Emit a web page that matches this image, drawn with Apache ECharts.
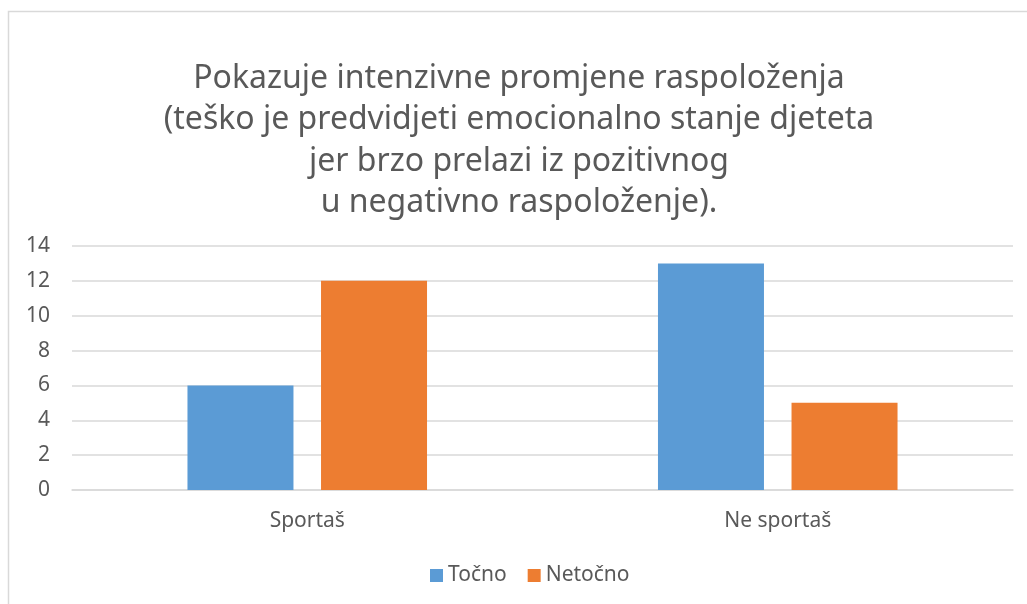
<!DOCTYPE html>
<html>
<head>
<meta charset="utf-8">
<script src="https://cdn.jsdelivr.net/npm/echarts@6/dist/echarts.min.js"></script>
<style>
  html, body { margin: 0; padding: 0; background: #fff; }
  #chart { width: 1027px; height: 604px; }
</style>
</head>
<body>
<div id="chart"></div>
<script>
var categories = ["Sportaš", "Ne sportaš"];
var tocno = [6, 13];
var netocno = [12, 5];
var titleLines = [
  "Pokazuje intenzivne promjene raspoloženja",
  "(teško je predvidjeti emocionalno stanje djeteta",
  "jer brzo prelazi iz pozitivnog",
  "u negativno raspoloženje)."
];

var chart = echarts.init(document.getElementById("chart"), null, { renderer: "canvas" });
var font = "'Noto Sans', 'Open Sans', sans-serif";

var option = {
  backgroundColor: "#ffffff",
  animation: false,
  textStyle: { fontFamily: font },
  graphic: [
    {
      type: "rect",
      shape: { x: 8.5, y: 11.5, width: 1040, height: 620 },
      style: { fill: "none", stroke: "#d9d9d9", lineWidth: 1.5 },
      silent: true
    }
  ],
  title: {
    text: titleLines.join("\n"),
    left: 514,
    top: 53,
    textAlign: "center",
    textStyle: {
      fontFamily: font,
      fontWeight: "normal",
      fontSize: 32,
      lineHeight: 41.5,
      color: "#595959"
    }
  },
  legend: {
    bottom: 13,
    left: 425,
    itemWidth: 13,
    itemHeight: 13,
    itemGap: 21,
    icon: "rect",
    textStyle: { fontFamily: font, fontSize: 21, color: "#595959" },
    data: ["Točno", "Netočno"]
  },
  grid: { left: 72, right: 14, top: 246, bottom: 114 },
  xAxis: {
    type: "category",
    data: categories,
    axisLine: { lineStyle: { color: "#d9d9d9", width: 1.5 } },
    axisTick: { show: false },
    axisLabel: { fontFamily: font, fontSize: 21, color: "#595959", margin: 21 }
  },
  yAxis: {
    type: "value",
    min: 0,
    max: 14,
    interval: 2,
    axisLine: { show: false },
    axisTick: { show: false },
    splitLine: { lineStyle: { color: "#d9d9d9", width: 1.5 } },
    axisLabel: { fontFamily: font, fontSize: 21, color: "#595959", margin: 22 }
  },
  series: [
    {
      name: "Točno",
      type: "bar",
      data: tocno,
      barWidth: 106,
      barGap: "26%",
      itemStyle: { color: "#5b9bd5" }
    },
    {
      name: "Netočno",
      type: "bar",
      data: netocno,
      barWidth: 106,
      itemStyle: { color: "#ed7d31" }
    }
  ]
};

chart.setOption(option);
</script>
</body>
</html>
